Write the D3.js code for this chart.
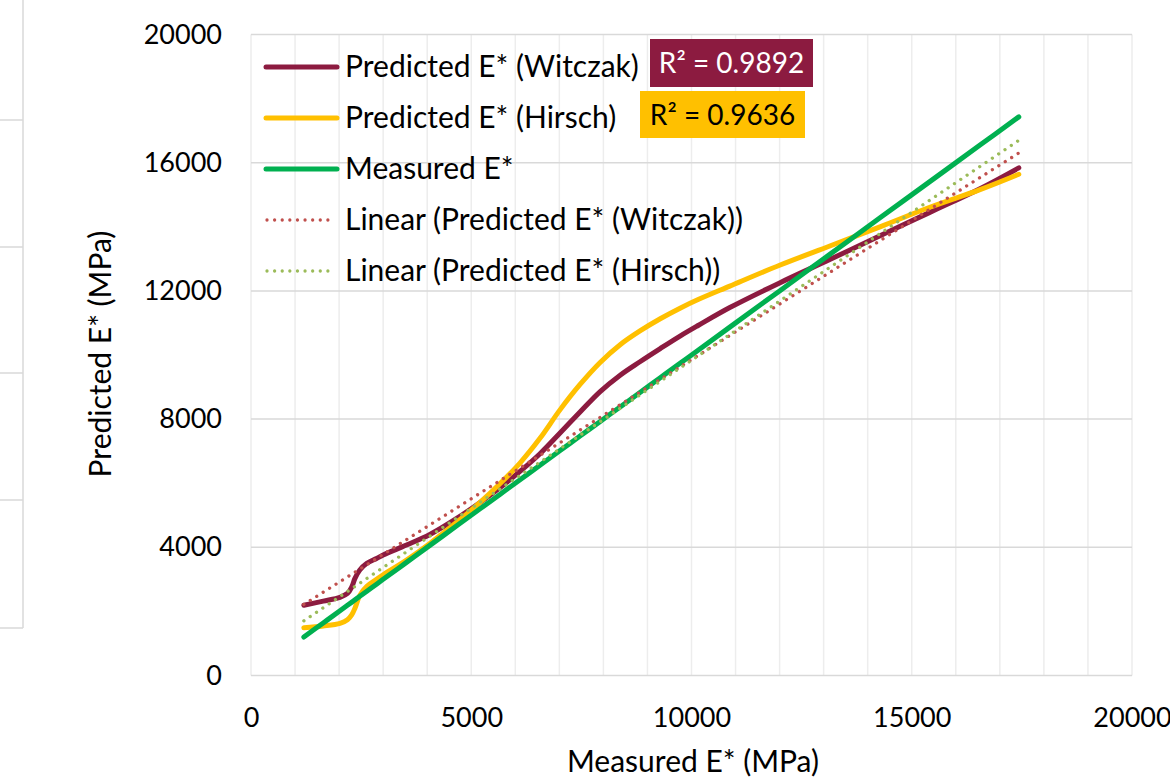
<!DOCTYPE html>
<html>
<head>
    <title>Predicted vs Measured E*</title>
    <script src="https://d3js.org/d3.v7.min.js"></script>
    <style>
        body { margin: 0; background: #fff; }
        text { font-family: Lato, "Open Sans", sans-serif; }
    </style>
</head>
<body>
    <script>
        // measured E* (MPa) at each test point
        var measured = [1200, 1640, 2020, 2190, 2290, 2360, 2470, 2630, 2850, 3000, 3530, 4060, 4670, 5200,
            5650, 6100, 6560, 7010, 7470, 7920, 8380, 8830, 9290, 9740, 10150, 10870, 12000, 13140, 14280,
            15410, 16550, 17430];
        var witczak = [2190, 2320, 2440, 2560, 2770, 3030, 3290, 3500, 3650, 3760, 4070, 4400, 4900, 5400,
            5860, 6360, 6920, 7560, 8220, 8850, 9370, 9790, 10200, 10590, 10920, 11480, 12250, 12980, 13720,
            14450, 15190, 15840];
        var hirsch = [1490, 1545, 1627, 1740, 1900, 2100, 2500, 2780, 3000, 3140, 3600, 4120, 4780, 5400,
            5980, 6620, 7400, 8280, 9080, 9760, 10320, 10750, 11130, 11460, 11730, 12150, 12800, 13400, 14000,
            14610, 15160, 15640];

        // linear trendlines: [slope, intercept]
        var trendWitczak = [0.8678, 1176];
        var trendHirsch = [0.9235, 599];

        var xTicks = [0, 5000, 10000, 15000, 20000];
        var xMinor = d3.range(0, 20001, 1000);
        var yTicks = [0, 4000, 8000, 12000, 16000, 20000];

        var seriesNames = ["Predicted E* (Witczak)", "Predicted E* (Hirsch)", "Measured E*",
            "Linear (Predicted E* (Witczak))", "Linear (Predicted E* (Hirsch))"];
        var r2Labels = ["R² = 0.9892", "R² = 0.9636"];

        var colors = {
            witczak: "#8c1b40",
            hirsch: "#ffc000",
            measured: "#00b050",
            trendW: "#c0504d",
            trendH: "#9bbb59"
        };

        var width = 1170, height = 779;
        var svg = d3.select("body")
            .append("svg")
            .attr("width", width)
            .attr("height", height);

        // bit of the neighbouring chart at the left edge
        var edge = svg.append("g").attr("stroke", "#d9d9d9").attr("stroke-width", 1.5);
        edge.append("line").attr("x1", 23).attr("x2", 23).attr("y1", 0).attr("y2", 628);
        [120, 247, 373, 500, 628].forEach(function(yy) {
            edge.append("line").attr("x1", 0).attr("x2", 23).attr("y1", yy).attr("y2", yy);
        });

        var x = d3.scaleLinear().domain([0, 20000]).range([251, 1132]);
        var y = d3.scaleLinear().domain([0, 20000]).range([675.5, 34.5]);

        // gridlines
        svg.append("g").selectAll("line")
            .data(xMinor)
            .join("line")
            .attr("x1", d => x(d)).attr("x2", d => x(d))
            .attr("y1", y(20000)).attr("y2", y(0))
            .attr("stroke", "#ededed")
            .attr("stroke-width", 1.5);

        svg.append("g").selectAll("line")
            .data(yTicks)
            .join("line")
            .attr("x1", x(0)).attr("x2", x(20000))
            .attr("y1", d => y(d)).attr("y2", d => y(d))
            .attr("stroke", "#d9d9d9")
            .attr("stroke-width", 1.5);

        // axes (labels only)
        var xAxis = svg.append("g")
            .attr("transform", "translate(0," + y(0) + ")")
            .call(d3.axisBottom(x).tickValues(xTicks).tickSize(0).tickPadding(32).tickFormat(d3.format("d")));
        var yAxis = svg.append("g")
            .attr("transform", "translate(" + x(0) + ",0)")
            .call(d3.axisLeft(y).tickValues(yTicks).tickSize(0).tickPadding(29).tickFormat(d3.format("d")));
        [xAxis, yAxis].forEach(function(a) {
            a.select(".domain").remove();
            a.selectAll("text")
                .attr("fill", "#000")
                .style("font-family", "Lato, sans-serif")
                .style("font-size", "27px");
        });

        svg.append("text")
            .attr("x", 693).attr("y", 772)
            .attr("text-anchor", "middle")
            .style("font-size", "30px")
            .text("Measured E* (MPa)");

        svg.append("text")
            .attr("transform", "translate(111,354) rotate(-90)")
            .attr("text-anchor", "middle")
            .style("font-size", "30px")
            .text("Predicted E* (MPa)");

        // series
        var line = d3.line()
            .x(d => x(d[0]))
            .y(d => y(d[1]))
            .curve(d3.curveCatmullRom.alpha(0.5));

        function draw(values, color) {
            svg.append("path")
                .datum(d3.zip(measured, values))
                .attr("d", line)
                .attr("fill", "none")
                .attr("stroke", color)
                .attr("stroke-width", 5)
                .attr("stroke-linecap", "round")
                .attr("stroke-linejoin", "round");
        }
        draw(witczak, colors.witczak);
        draw(hirsch, colors.hirsch);
        draw(measured, colors.measured);

        function trend(coef, color) {
            var x0 = d3.min(measured), x1 = d3.max(measured);
            svg.append("line")
                .attr("x1", x(x0)).attr("y1", y(coef[0] * x0 + coef[1]))
                .attr("x2", x(x1)).attr("y2", y(coef[0] * x1 + coef[1]))
                .attr("stroke", color)
                .attr("stroke-width", 3.3)
                .attr("stroke-linecap", "round")
                .attr("stroke-dasharray", "0.01 7.6");
        }
        trend(trendWitczak, colors.trendW);
        trend(trendHirsch, colors.trendH);

        // legend
        var legendColors = [colors.witczak, colors.hirsch, colors.measured, colors.trendW, colors.trendH];
        var legend = svg.append("g");
        seriesNames.forEach(function(name, i) {
            var ly = 67 + i * 51;
            var dotted = i >= 3;
            legend.append("line")
                .attr("x1", dotted ? 267 : 266).attr("x2", dotted ? 330 : 337)
                .attr("y1", ly).attr("y2", ly)
                .attr("stroke", legendColors[i])
                .attr("stroke-width", dotted ? 3.3 : 5)
                .attr("stroke-linecap", "round")
                .attr("stroke-dasharray", dotted ? "0.01 7.6" : null);
            legend.append("text")
                .attr("x", 345).attr("y", ly + 10)
                .style("font-size", "30px")
                .text(name);
        });

        // R² labels
        var r2Boxes = [
            {x: 650, y: 39, w: 163, h: 48, fill: colors.witczak, text: "#fff"},
            {x: 640, y: 91, w: 165, h: 47, fill: colors.hirsch, text: "#000"}
        ];
        r2Boxes.forEach(function(b, i) {
            svg.append("rect")
                .attr("x", b.x).attr("y", b.y)
                .attr("width", b.w).attr("height", b.h)
                .attr("fill", b.fill);
            svg.append("text")
                .attr("x", b.x + b.w / 2).attr("y", b.y + b.h / 2 + 10)
                .attr("text-anchor", "middle")
                .attr("fill", b.text)
                .style("font-size", "28px")
                .text(r2Labels[i]);
        });
    </script>
</body>
</html>
